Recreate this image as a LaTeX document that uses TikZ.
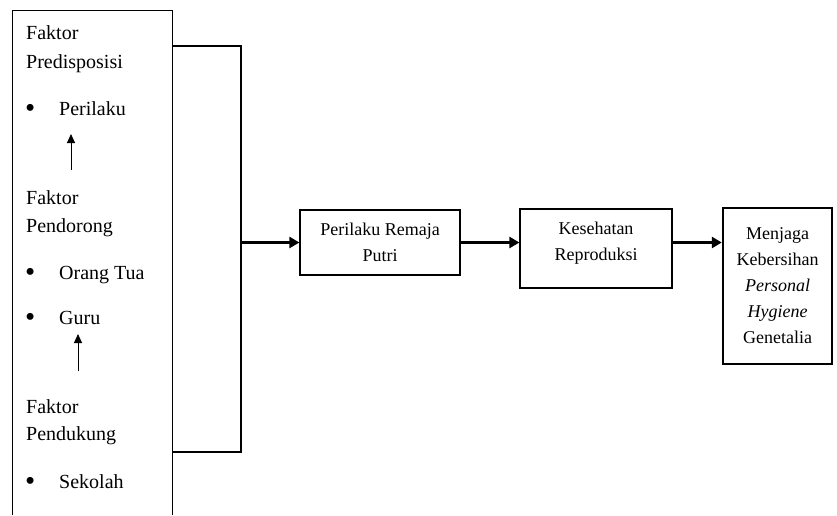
\documentclass[tikz,border=0pt]{standalone}
\usepackage{fontspec}
\setmainfont{Liberation Serif}
\usetikzlibrary{arrows.meta}
\tikzset{>=stealth,
    faktor/.style={anchor=base west, inner sep=0pt, font=\fontsize{20}{24}\selectfont},
    rbox/.style={draw, line width=1.2pt, align=center, inner sep=2pt,
        font=\fontsize{18}{26}\selectfont},
    thickarrow/.style={line width=2.8pt, -{Triangle[length=10pt,width=11pt]}},
    thinarrow/.style={line width=0.9pt, -{Triangle[length=9pt,width=8pt]}},
}
\newcommand{\itembul}[1]{\makebox[33pt][l]{\hspace{-1pt}\raisebox{-2pt}{\scalebox{1.45}{\textbullet}}}#1}
\begin{document}
\begin{tikzpicture}[x=1pt,y=-1pt]
    \useasboundingbox (0,0) rectangle (837,515);
    % kotak faktor (bawah terpotong)
    \draw[line width=1pt] (12,515) -- (12,10) -- (172,10) -- (172,515);
    \node[faktor] (f1) at (26,39) {Faktor};
    \node[faktor] (f1b) at (26,68) {Predisposisi};
    \node[faktor] (perilaku) at (26,115) {\itembul{Perilaku}};
    \node[faktor] (f2) at (26,204) {Faktor};
    \node[faktor] (f2b) at (26,232) {Pendorong};
    \node[faktor] (ortu) at (26,279) {\itembul{Orang Tua}};
    \node[faktor] (guru) at (26,324) {\itembul{Guru}};
    \node[faktor] (f3) at (26,413) {Faktor};
    \node[faktor] (f3b) at (26,440) {Pendukung};
    \node[faktor] (sekolah) at (26,488) {\itembul{Sekolah}};
    \coordinate (a1s) at (71,170);
    \coordinate (a1e) at (71,134);
    \coordinate (a2s) at (78,371);
    \coordinate (a2e) at (78,334);
    \draw[thinarrow] (a1s) -- (a1e);
    \draw[thinarrow] (a2s) -- (a2e);
    % kurung
    \coordinate (brtop) at (172,46);
    \coordinate (brbot) at (172,452);
    \coordinate (brmid) at (241,242.5);
    \draw[line width=2pt] (brtop) -- (brtop -| brmid) -- (brbot -| brmid) -- (brbot);
    % kotak kanan
    \node[rbox, minimum width=160pt, minimum height=65pt] (remaja) at (380,242.5)
        {Perilaku Remaja\\Putri};
    \node[rbox, minimum width=152pt, minimum height=79pt] (kesehatan) at (596,248.5)
        {\raisebox{6.5pt}[\height][\depth]{\begin{tabular}{@{}c@{}}Kesehatan\\Reproduksi\end{tabular}}};
    \node[rbox, line width=2.4pt, minimum width=109pt, minimum height=156pt] (menjaga) at (777.5,286)
        {Menjaga\\Kebersihan\\\textit{Personal}\\\textit{Hygiene}\\Genetalia};
    \draw[thickarrow] (brmid) -- (remaja.west);
    \draw[thickarrow] (remaja.east) -- (remaja.east -| kesehatan.west);
    \draw[thickarrow] (remaja.east -| kesehatan.east) -- (remaja.east -| menjaga.west);
\end{tikzpicture}
\end{document}
